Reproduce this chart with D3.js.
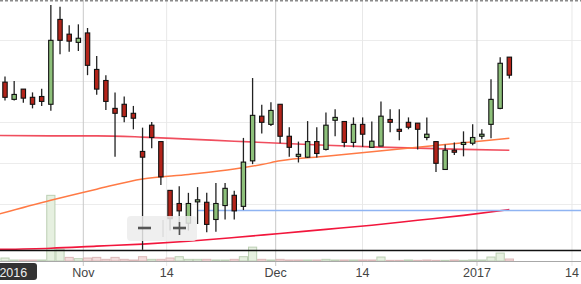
<!DOCTYPE html>
<html lang="en">
<head>
<meta charset="utf-8">
<title>candles</title>
<script src="https://cdn.jsdelivr.net/npm/d3@7"></script>
<style>
  body { margin: 0; background: #fff; }
  svg text { font-family: "Liberation Sans", Arial, sans-serif; }
</style>
</head>
<body>
<div id="chart"></div>
<script>
// one candle per trading day, Oct 19 2016 .. Jan 9 2017
var opens  = [32.96,32.54,32.79,32.59,32.61,32.42,34.49,34.13,33.93,34.16,33.27,33.00,32.32,32.42,32.20,31.27,31.91,31.51,30.32,30.00,
              29.52,30.04,30.03,29.61,29.95,30.20,29.93,31.04,32.13,31.93,32.42,31.64,31.15,31.13,31.51,31.32,32.03,32.00,31.49,31.93,
              31.37,31.40,32.05,31.81,31.98,31.96,31.61,31.51,30.83,31.30,31.44,31.47,31.64,31.93,32.32,33.57];
var highs  = [33.10,32.99,32.79,32.71,32.80,34.84,34.80,34.35,34.37,34.28,33.60,33.13,32.71,32.61,32.38,31.85,31.99,31.51,30.32,30.42,
              30.26,30.40,30.26,30.50,30.50,30.31,31.60,33.06,32.41,32.47,32.42,31.86,31.51,32.01,31.86,32.22,32.30,32.00,32.10,32.10,
              32.00,32.49,32.30,32.30,32.10,31.96,32.10,31.51,31.44,31.49,31.76,31.93,31.81,33.03,33.57,33.57];
var lows   = [32.51,32.51,32.46,32.32,32.38,32.26,33.64,33.70,33.72,33.13,32.65,32.28,31.14,31.98,31.81,28.87,31.35,30.45,29.34,29.23,
              29.34,29.50,29.30,29.31,29.61,29.61,29.84,30.96,31.71,31.89,31.47,31.14,31.00,31.11,31.12,31.29,31.64,31.37,31.37,31.38,
              31.37,31.40,31.74,31.54,31.81,31.32,31.54,30.77,30.82,31.18,31.15,31.42,31.57,31.59,32.30,33.05];
var closes = [32.59,32.66,32.57,32.42,32.49,33.98,33.98,33.96,34.03,33.37,32.79,32.49,32.20,32.12,32.08,31.13,31.61,30.65,29.63,29.82,
              30.00,30.09,29.49,30.00,30.37,29.82,31.01,32.15,31.98,32.27,31.64,31.37,31.20,31.51,31.22,31.91,32.10,31.49,31.93,31.69,
              31.52,32.13,31.98,31.76,31.86,31.81,31.69,30.98,31.30,31.25,31.49,31.61,31.69,32.54,33.42,33.13];
var volumes = [0.9,0.3,0.3,0.3,0.3,19.9,3.6,1.1,0.7,0.9,1.1,0.5,1.1,0.5,0.3,1.3,0.5,0.5,0.9,1.3,
               0.5,0.5,0.5,0.3,0.3,0.5,1.3,4.2,0.5,0.3,0.5,0.3,0.3,0.3,0.3,0.5,0.3,0.3,0.3,0.3,
               0.3,1.2,0.2,0.2,0.3,0.2,0.3,0.2,0.2,0.3,0.2,0.3,0.3,1.2,2.4,0.6];

// moving averages at a few candle indexes
var maIdx     = [-1, 5, 10, 15, 20, 25, 30, 35, 40, 45, 50, 55];
var maLong    = [31.66,31.65,31.65,31.62,31.57,31.52,31.47,31.42,31.38,31.35,31.32,31.30];
var maMid     = [29.72,30.08,30.35,30.60,30.71,30.84,31.04,31.15,31.26,31.37,31.48,31.59];
var maMidFix  = [[28, 30.95]];
var maTrend   = [28.88,28.91,28.96,29.01,29.08,29.17,29.27,29.37,29.47,29.59,29.71,29.85];

var alertLevel = 29.83, alertFrom = 21;
var lowLevel = 28.87;

var priceTicks = [30, 31, 32, 33, 34];
var tickPos    = [8.54, 17.63, 29.52, 38.99, 51.47, 61.83];
var tickLabels = ["Nov", "14", "Dec", "14", "2017", "14"];
var tickMajor  = [true, false, true, false, true, false];
var yearLabel  = "2016";

var W = 581, H = 284;
var svg = d3.select("#chart").append("svg").attr("width", W).attr("height", H);

var x = d3.scaleLinear().domain([0, 55]).range([5, 509.35]);
var y = d3.scaleLinear().domain([30, 34]).range([203.5, 39.5]);
var yv = d3.scaleLinear().domain([0, 20]).range([261, 195]);

svg.append("clipPath").attr("id", "plot").append("rect")
    .attr("x", 0).attr("y", 0).attr("width", W).attr("height", 261);

// horizontal grid
svg.append("g").selectAll("line").data(priceTicks).enter().append("line")
    .attr("x1", 0).attr("x2", W)
    .attr("y1", function(d){ return Math.round(y(d)) + 0.5; })
    .attr("y2", function(d){ return Math.round(y(d)) + 0.5; })
    .style("stroke", "#ececec").style("stroke-width", 1);

// vertical grid + ticks
svg.append("g").selectAll("line").data(tickPos).enter().append("line")
    .attr("x1", function(d){ return x(d); }).attr("x2", function(d){ return x(d); })
    .attr("y1", 0).attr("y2", 266)
    .style("stroke", function(d, i){ return tickMajor[i] ? "#c8c8c8" : "#e8e8e8"; })
    .style("stroke-width", 1);

// top dashed border
svg.append("line").attr("x1", 0).attr("x2", W).attr("y1", 0.8).attr("y2", 0.8)
    .style("stroke", "#8a8a8a").style("stroke-width", 1.5).style("stroke-dasharray", "3,2");

// volume
var bw = x(1) - x(0);
function upDay(i) { return i == 0 || closes[i] >= closes[i-1]; }
svg.append("g").selectAll("rect").data(volumes).enter().append("rect")
    .attr("x", function(d, i){ return x(i) - bw / 2 + 0.5; })
    .attr("width", bw - 1)
    .attr("y", function(d){ return yv(d); })
    .attr("height", function(d){ return 261 - yv(d); })
    .style("fill", function(d, i){ return upDay(i) ? "#e6f0e0" : "#f3dcdc"; })
    .style("stroke", function(d, i){ return upDay(i) ? "#bccfb4" : "#dcb8b8"; })
    .style("stroke-width", 1);

// axis line
svg.append("line").attr("x1", 0).attr("x2", W).attr("y1", 261.5).attr("y2", 261.5)
    .style("stroke", "#a8a8a8").style("stroke-width", 1);

var plot = svg.append("g").attr("clip-path", "url(#plot)");

function maLine(vals, extra) {
    var pts = maIdx.map(function(d, i){ return [d, vals[i]]; });
    if (extra) pts = pts.concat(extra);
    pts.sort(function(a, b){ return a[0] - b[0]; });
    return d3.line().curve(d3.curveMonotoneX)
        .x(function(d){ return x(d[0]); })
        .y(function(d){ return y(d[1]); })(pts);
}

plot.append("path").attr("d", maLine(maLong)).style("fill", "none")
    .style("stroke", "#ee3b4c").style("stroke-width", 1.6).style("opacity", 0.9);
plot.append("path").attr("d", maLine(maMid, maMidFix)).style("fill", "none")
    .style("stroke", "#ff7a45").style("stroke-width", 1.5);
plot.append("path").attr("d", maLine(maTrend)).style("fill", "none")
    .style("stroke", "#f2163c").style("stroke-width", 1.6);

// alert level
plot.append("line").attr("x1", x(alertFrom)).attr("x2", W)
    .attr("y1", y(alertLevel)).attr("y2", y(alertLevel))
    .style("stroke", "#8fb4f2").style("stroke-width", 1.5);

// low marker line
plot.append("line").attr("x1", 0).attr("x2", W)
    .attr("y1", Math.round(y(lowLevel)) + 0.5).attr("y2", Math.round(y(lowLevel)) + 0.5)
    .style("stroke", "#111").style("stroke-width", 1.5);

// zoom buttons
var zb = svg.append("g");
zb.append("rect").attr("x", 127).attr("y", 216).attr("width", 70).attr("height", 25).attr("rx", 4)
    .style("fill", "#ececec").style("opacity", 0.85);
zb.append("line").attr("x1", 163).attr("x2", 163).attr("y1", 220).attr("y2", 237)
    .style("stroke", "#d4d4d4").style("stroke-width", 1);
zb.append("line").attr("x1", 138).attr("x2", 151).attr("y1", 228).attr("y2", 228)
    .style("stroke", "#555").style("stroke-width", 2.6);
zb.append("line").attr("x1", 173).attr("x2", 186).attr("y1", 228).attr("y2", 228)
    .style("stroke", "#555").style("stroke-width", 2.6);
zb.append("line").attr("x1", 179.5).attr("x2", 179.5).attr("y1", 222).attr("y2", 235)
    .style("stroke", "#555").style("stroke-width", 1.6);

// candles
var cg = plot.append("g");
for (var i = 0; i < opens.length; i++) {
    var cx = x(i);
    cg.append("line")
        .attr("x1", cx).attr("x2", cx)
        .attr("y1", y(highs[i])).attr("y2", y(lows[i]))
        .style("stroke", "#222").style("stroke-width", 1.3);
    var bodyTop = y(Math.max(opens[i], closes[i]));
    var bodyBot = y(Math.min(opens[i], closes[i]));
    cg.append("rect")
        .attr("x", cx - 2.2).attr("width", 4.4)
        .attr("y", bodyTop).attr("height", Math.max(bodyBot - bodyTop, 1.5))
        .style("fill", closes[i] >= opens[i] ? "#8dc07a" : "#b4241a")
        .style("stroke", "#111").style("stroke-width", 1.1);
}

// axis labels
svg.append("g").selectAll("text").data(tickPos).enter().append("text")
    .attr("x", function(d){ return x(d); })
    .attr("y", 277)
    .attr("text-anchor", "middle")
    .style("font-size", "12.5px").style("fill", "#444")
    .text(function(d, i){ return tickLabels[i]; });

// pinned year label
svg.append("rect").attr("x", -10).attr("y", 263).attr("width", 47).attr("height", 17).attr("rx", 3)
    .style("fill", "#333");
svg.append("text").attr("x", 13.3).attr("y", 277).attr("text-anchor", "middle")
    .style("font-size", "12.5px").style("fill", "#eee").text(yearLabel);
</script>
</body>
</html>
